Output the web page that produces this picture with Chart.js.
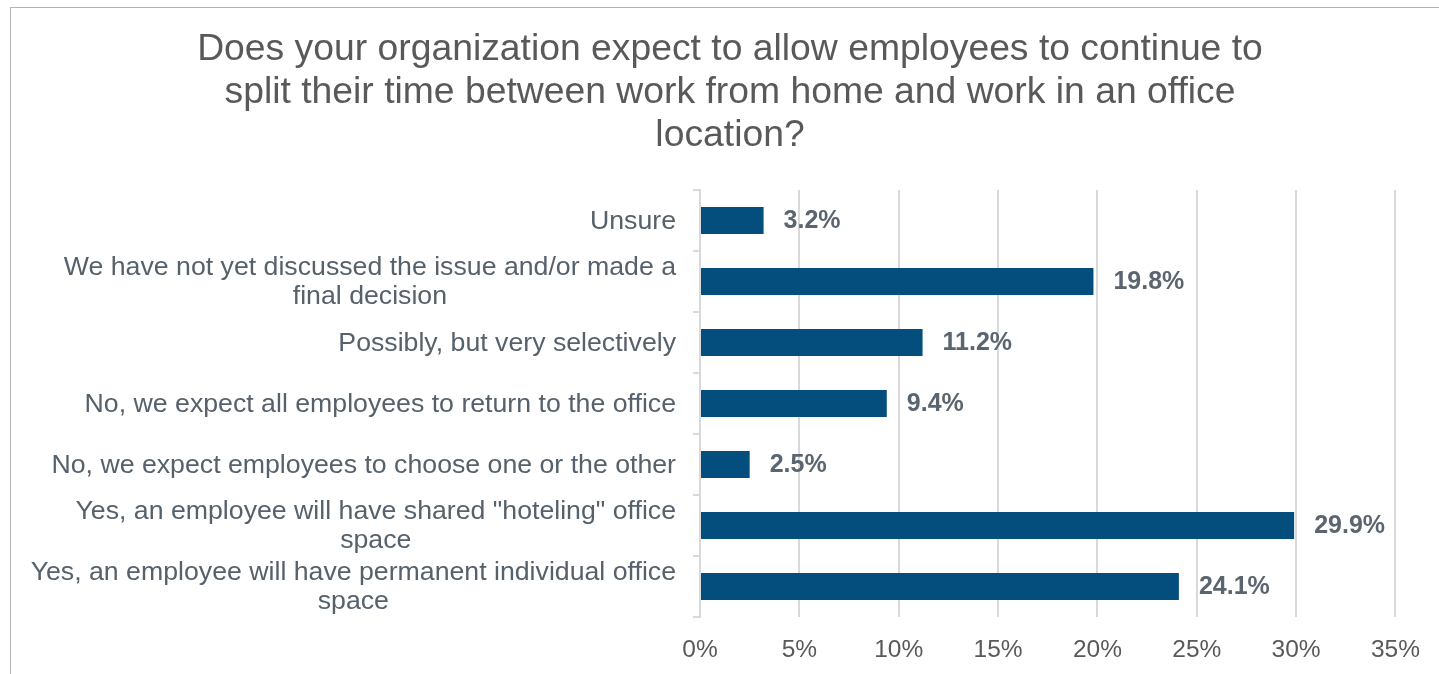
<!DOCTYPE html>
<html>
<head>
<meta charset="utf-8">
<script src="https://cdn.jsdelivr.net/npm/chart.js@4.4.1/dist/chart.umd.min.js"></script>
<style>
  html, body { margin: 0; padding: 0; background: #fff; overflow: hidden; }
  #frame { position: absolute; left: 10px; top: 7px; width: 1440px; height: 680px; border: 1.5px solid #b3b3b3; }
  #wrap { position: absolute; left: 0; top: 0; width: 1439px; height: 674px; }
</style>
</head>
<body>
<div id="frame"></div>
<div id="wrap"><canvas id="chart"></canvas></div>
<script>
// Titolo del grafico
const titleLines = [
  "Does your organization expect to allow employees to continue to",
  "split their time between work from home and work in an office",
  "location?"
];

// Categorie (una riga per elemento)
const categories = [
  ["Unsure"],
  ["We have not yet discussed the issue and/or made a", "final decision"],
  ["Possibly, but very selectively"],
  ["No, we expect all employees to return to the office"],
  ["No, we expect employees to choose one or the other"],
  ["Yes, an employee will have shared \"hoteling\" office", "space"],
  ["Yes, an employee will have permanent individual office", "space"]
];

// Valori in percentuale
const values = [3.2, 19.8, 11.2, 9.4, 2.5, 29.9, 24.1];

// Asse x
const xMin = 0;
const xMax = 35;
const xStep = 5;

const FONT = '"Liberation Sans", Arial, sans-serif';

// Etichette delle categorie e dei valori
const labelPlugin = {
  id: "labelPlugin",
  afterDatasetsDraw(chart) {
    const ctx = chart.ctx;
    const meta = chart.getDatasetMeta(0);
    const yScale = chart.scales.y;
    ctx.save();

    // valori a fianco delle barre
    ctx.font = "bold 25px " + FONT;
    ctx.fillStyle = "#5a6570";
    ctx.textAlign = "left";
    ctx.textBaseline = "middle";
    meta.data.forEach((bar, i) => {
      ctx.fillText(values[i].toFixed(1) + "%", bar.x + 20, bar.y + 1);
    });

    // categorie (righe centrate fra loro, blocco allineato a destra)
    ctx.font = "26.7px " + FONT;
    ctx.fillStyle = "#56616c";
    ctx.textAlign = "center";
    categories.forEach((lines, i) => {
      const y = yScale.getPixelForValue(i);
      const maxW = Math.max(...lines.map(l => ctx.measureText(l).width));
      const cx = yScale.right - 24 - maxW / 2;
      lines.forEach((l, j) => {
        ctx.fillText(l, cx, y + 1 + (j - (lines.length - 1) / 2) * 29);
      });
    });
    ctx.restore();
  }
};

const ctx = document.getElementById("chart").getContext("2d");

new Chart(ctx, {
  type: "bar",
  data: {
    labels: categories.map(l => l.join(" ")),
    datasets: [{
      data: values,
      backgroundColor: "#034e7d",
      borderWidth: 0,
      barPercentage: 0.44,
      categoryPercentage: 1
    }]
  },
  options: {
    indexAxis: "y",
    responsive: true,
    maintainAspectRatio: false,
    animation: false,
    layout: { padding: { left: 64, right: 43, top: 7, bottom: 0 } },
    plugins: {
      legend: { display: false },
      tooltip: { enabled: false },
      title: {
        display: true,
        text: titleLines,
        color: "#595959",
        font: { family: FONT, size: 37.3, weight: "normal", lineHeight: 1.153 },
        padding: { top: 21, bottom: 33 }
      }
    },
    scales: {
      x: {
        min: xMin,
        max: xMax,
        afterFit: s => { s.height = 57; },
        grid: { color: "#d9d9d9", lineWidth: 2, drawTicks: false },
        border: { display: false },
        ticks: {
          stepSize: xStep,
          padding: 19,
          color: "#595959",
          font: { family: FONT, size: 24.5 },
          callback: v => v + "%"
        }
      },
      y: {
        afterFit: s => { s.width = 636; },
        grid: { offset: true, drawOnChartArea: false, drawTicks: true, tickLength: 7, color: "#d9d9d9", lineWidth: 2 },
        border: { display: true, color: "#d9d9d9", width: 2 },
        ticks: { display: false }
      }
    }
  },
  plugins: [labelPlugin]
});
</script>
</body>
</html>
